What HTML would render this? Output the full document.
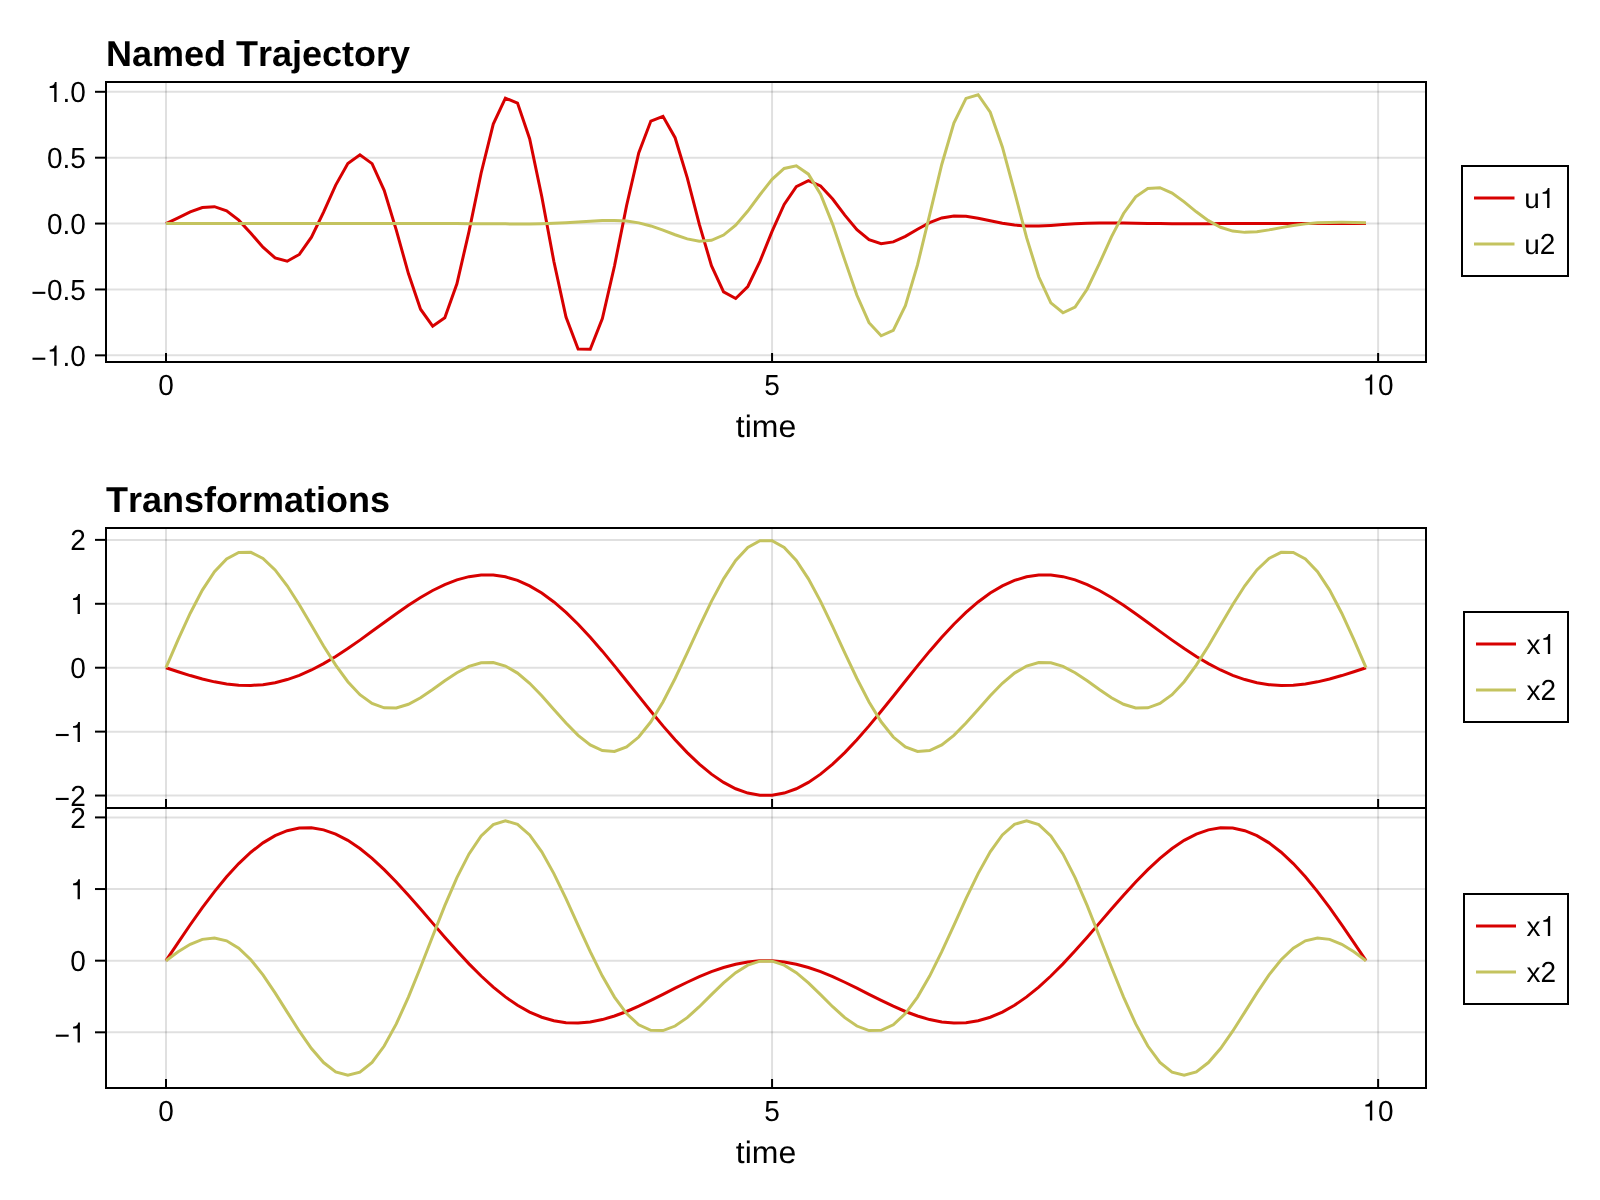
<!DOCTYPE html>
<html><head><meta charset="utf-8"><title>Named Trajectory</title>
<style>
html,body{margin:0;padding:0;background:#fff;overflow:hidden;width:1600px;height:1200px;}
svg{display:block;will-change:transform;}
svg text{font-family:"Liberation Sans",sans-serif;fill:#000;font-kerning:none;text-rendering:geometricPrecision;}
</style></head>
<body>
<svg width="1600" height="1200" viewBox="0 0 1600 1200">
<rect x="0" y="0" width="1600" height="1200" fill="#fff"/>
<line x1="166" y1="82.0" x2="166" y2="362.0" stroke="rgba(0,0,0,0.12)" stroke-width="2"/>
<line x1="772.06" y1="82.0" x2="772.06" y2="362.0" stroke="rgba(0,0,0,0.12)" stroke-width="2"/>
<line x1="1378.12" y1="82.0" x2="1378.12" y2="362.0" stroke="rgba(0,0,0,0.12)" stroke-width="2"/>
<line x1="106.0" y1="91.8" x2="1426.0" y2="91.8" stroke="rgba(0,0,0,0.12)" stroke-width="2"/>
<line x1="106.0" y1="157.69" x2="1426.0" y2="157.69" stroke="rgba(0,0,0,0.12)" stroke-width="2"/>
<line x1="106.0" y1="223.57" x2="1426.0" y2="223.57" stroke="rgba(0,0,0,0.12)" stroke-width="2"/>
<line x1="106.0" y1="289.46" x2="1426.0" y2="289.46" stroke="rgba(0,0,0,0.12)" stroke-width="2"/>
<line x1="106.0" y1="355.34" x2="1426.0" y2="355.34" stroke="rgba(0,0,0,0.12)" stroke-width="2"/>
<polyline points="166,223.57 178.12,217.86 190.24,211.89 202.36,207.52 214.48,206.7 226.61,210.83 238.73,220.14 250.85,233.26 262.97,247.2 275.09,257.9 287.21,261.25 299.33,254.44 311.45,237.12 323.58,212.08 335.7,185.06 347.82,163.56 359.94,154.83 372.06,163.62 384.18,190.31 396.3,230.06 408.42,273.59 420.55,309.23 432.67,326.2 444.79,317.79 456.91,283.82 469.03,231.31 481.15,172.97 493.27,124.08 505.39,98.16 517.52,103.12 529.64,138.74 541.76,196.44 553.88,261.51 566,317.13 578.12,349 590.24,349.27 602.36,318.65 614.48,265.97 626.61,205.52 638.73,152.98 650.85,121.06 662.97,116.3 675.09,137.71 687.21,177.65 699.33,224.39 711.45,265.65 723.58,291.89 735.7,298.51 747.82,286.5 759.94,261.41 772.06,231.33 784.18,204.39 796.3,186.61 808.42,180.72 820.55,185.99 832.67,199.02 844.79,215.12 856.91,229.75 869.03,239.71 881.15,243.62 893.27,241.91 905.39,236.34 917.52,229.19 929.64,222.57 941.76,217.96 953.88,215.92 966,216.25 978.12,218.21 990.24,220.84 1002.36,223.33 1014.48,225.1 1026.61,225.95 1038.73,225.97 1050.85,225.41 1062.97,224.6 1075.09,223.83 1087.21,223.27 1099.33,222.98 1111.45,222.93 1123.58,223.06 1135.7,223.26 1147.82,223.47 1159.94,223.61 1172.06,223.7 1184.18,223.71 1196.3,223.69 1208.42,223.65 1220.55,223.61 1232.67,223.57 1244.79,223.55 1256.91,223.55 1269.03,223.55 1281.15,223.56 1293.27,223.57 1305.39,223.57 1317.52,223.58 1329.64,223.58 1341.76,223.58 1353.88,223.58 1366,223.58" fill="none" stroke="#d70000" stroke-width="3" stroke-linejoin="miter" stroke-miterlimit="10"/>
<polyline points="166,223.57 178.12,223.57 190.24,223.57 202.36,223.57 214.48,223.57 226.61,223.57 238.73,223.57 250.85,223.57 262.97,223.57 275.09,223.57 287.21,223.57 299.33,223.57 311.45,223.57 323.58,223.57 335.7,223.57 347.82,223.57 359.94,223.57 372.06,223.57 384.18,223.57 396.3,223.56 408.42,223.56 420.55,223.55 432.67,223.55 444.79,223.56 456.91,223.59 469.03,223.63 481.15,223.7 493.27,223.79 505.39,223.87 517.52,223.92 529.64,223.88 541.76,223.7 553.88,223.33 566,222.75 578.12,221.99 590.24,221.18 602.36,220.54 614.48,220.39 626.61,221.06 638.73,222.87 650.85,225.93 662.97,230.07 675.09,234.72 687.21,238.86 699.33,241.19 711.45,240.3 723.58,235.08 735.7,225.12 747.82,211.05 759.94,194.77 772.06,179.32 784.18,168.44 796.3,165.83 808.42,174.16 820.55,194.23 832.67,224.32 844.79,260.12 856.91,295.31 869.03,322.69 881.15,335.78 893.27,330.35 905.39,305.67 917.52,264.93 929.64,214.87 941.76,164.48 953.88,123.09 966,98.39 978.12,94.73 990.24,112.25 1002.36,146.95 1014.48,191.63 1026.61,237.65 1038.73,276.76 1050.85,302.8 1062.97,312.76 1075.09,307.05 1087.21,288.99 1099.33,263.71 1111.45,236.9 1123.58,213.48 1135.7,196.84 1147.82,188.4 1159.94,187.73 1172.06,193.06 1184.18,201.91 1196.3,211.79 1208.42,220.66 1220.55,227.26 1232.67,231.1 1244.79,232.37 1256.91,231.7 1269.03,229.87 1281.15,227.61 1293.27,225.51 1305.39,223.88 1317.52,222.86 1329.64,222.39 1341.76,222.33 1353.88,222.53 1366,222.84" fill="none" stroke="#c4c35f" stroke-width="3" stroke-linejoin="miter" stroke-miterlimit="10"/>
<line x1="166" y1="528.0" x2="166" y2="808.0" stroke="rgba(0,0,0,0.12)" stroke-width="2"/>
<line x1="772.06" y1="528.0" x2="772.06" y2="808.0" stroke="rgba(0,0,0,0.12)" stroke-width="2"/>
<line x1="1378.12" y1="528.0" x2="1378.12" y2="808.0" stroke="rgba(0,0,0,0.12)" stroke-width="2"/>
<line x1="106.0" y1="539.88" x2="1426.0" y2="539.88" stroke="rgba(0,0,0,0.12)" stroke-width="2"/>
<line x1="106.0" y1="603.79" x2="1426.0" y2="603.79" stroke="rgba(0,0,0,0.12)" stroke-width="2"/>
<line x1="106.0" y1="667.71" x2="1426.0" y2="667.71" stroke="rgba(0,0,0,0.12)" stroke-width="2"/>
<line x1="106.0" y1="731.63" x2="1426.0" y2="731.63" stroke="rgba(0,0,0,0.12)" stroke-width="2"/>
<line x1="106.0" y1="795.55" x2="1426.0" y2="795.55" stroke="rgba(0,0,0,0.12)" stroke-width="2"/>
<polyline points="166,667.71 178.12,671.73 190.24,675.56 202.36,678.99 214.48,681.85 226.61,683.98 238.73,685.22 250.85,685.47 262.97,684.64 275.09,682.67 287.21,679.55 299.33,675.3 311.45,669.97 323.58,663.65 335.7,656.46 347.82,648.55 359.94,640.11 372.06,631.34 384.18,622.45 396.3,613.69 408.42,605.28 420.55,597.47 432.67,590.5 444.79,584.57 456.91,579.89 469.03,576.65 481.15,574.98 493.27,575.01 505.39,576.82 517.52,580.43 529.64,585.86 541.76,593.05 553.88,601.93 566,612.36 578.12,624.18 590.24,637.19 602.36,651.16 614.48,665.84 626.61,680.95 638.73,696.19 650.85,711.28 662.97,725.9 675.09,739.77 687.21,752.61 699.33,764.15 711.45,774.16 723.58,782.43 735.7,788.78 747.82,793.09 759.94,795.27 772.06,795.27 784.18,793.09 796.3,788.78 808.42,782.43 820.55,774.16 832.67,764.15 844.79,752.61 856.91,739.77 869.03,725.9 881.15,711.28 893.27,696.19 905.39,680.95 917.52,665.84 929.64,651.16 941.76,637.19 953.88,624.18 966,612.36 978.12,601.93 990.24,593.05 1002.36,585.86 1014.48,580.43 1026.61,576.82 1038.73,575.01 1050.85,574.98 1062.97,576.65 1075.09,579.89 1087.21,584.57 1099.33,590.5 1111.45,597.47 1123.58,605.28 1135.7,613.69 1147.82,622.45 1159.94,631.34 1172.06,640.11 1184.18,648.55 1196.3,656.46 1208.42,663.65 1220.55,669.97 1232.67,675.3 1244.79,679.55 1256.91,682.67 1269.03,684.64 1281.15,685.47 1293.27,685.22 1305.39,683.98 1317.52,681.85 1329.64,678.99 1341.76,675.56 1353.88,671.73 1366,667.71" fill="none" stroke="#d70000" stroke-width="3" stroke-linejoin="miter" stroke-miterlimit="10"/>
<polyline points="166,667.71 178.12,639.6 190.24,613.21 202.36,590.12 214.48,571.67 226.61,558.89 238.73,552.38 250.85,552.3 262.97,558.37 275.09,569.89 287.21,585.79 299.33,604.76 311.45,625.32 323.58,645.93 335.7,665.15 347.82,681.74 359.94,694.73 372.06,703.51 384.18,707.84 396.3,707.93 408.42,704.3 420.55,697.82 432.67,689.57 444.79,680.78 456.91,672.67 469.03,666.36 481.15,662.79 493.27,662.59 505.39,666.05 517.52,673.09 529.64,683.25 541.76,695.72 553.88,709.41 566,723.07 578.12,735.33 590.24,744.89 602.36,750.57 614.48,751.48 626.61,747.03 638.73,737.05 650.85,721.8 662.97,701.93 675.09,678.51 687.21,652.89 699.33,626.63 711.45,601.4 723.58,578.84 735.7,560.45 747.82,547.45 759.94,540.73 772.06,540.73 784.18,547.45 796.3,560.45 808.42,578.84 820.55,601.4 832.67,626.63 844.79,652.89 856.91,678.51 869.03,701.93 881.15,721.8 893.27,737.05 905.39,747.03 917.52,751.48 929.64,750.57 941.76,744.89 953.88,735.33 966,723.07 978.12,709.41 990.24,695.72 1002.36,683.25 1014.48,673.09 1026.61,666.05 1038.73,662.59 1050.85,662.79 1062.97,666.36 1075.09,672.67 1087.21,680.78 1099.33,689.57 1111.45,697.82 1123.58,704.3 1135.7,707.93 1147.82,707.84 1159.94,703.51 1172.06,694.73 1184.18,681.74 1196.3,665.15 1208.42,645.93 1220.55,625.32 1232.67,604.76 1244.79,585.79 1256.91,569.89 1269.03,558.37 1281.15,552.3 1293.27,552.38 1305.39,558.89 1317.52,571.67 1329.64,590.12 1341.76,613.21 1353.88,639.6 1366,667.71" fill="none" stroke="#c4c35f" stroke-width="3" stroke-linejoin="miter" stroke-miterlimit="10"/>
<line x1="166" y1="808.0" x2="166" y2="1088.0" stroke="rgba(0,0,0,0.12)" stroke-width="2"/>
<line x1="772.06" y1="808.0" x2="772.06" y2="1088.0" stroke="rgba(0,0,0,0.12)" stroke-width="2"/>
<line x1="1378.12" y1="808.0" x2="1378.12" y2="1088.0" stroke="rgba(0,0,0,0.12)" stroke-width="2"/>
<line x1="106.0" y1="817.41" x2="1426.0" y2="817.41" stroke="rgba(0,0,0,0.12)" stroke-width="2"/>
<line x1="106.0" y1="889.04" x2="1426.0" y2="889.04" stroke="rgba(0,0,0,0.12)" stroke-width="2"/>
<line x1="106.0" y1="960.68" x2="1426.0" y2="960.68" stroke="rgba(0,0,0,0.12)" stroke-width="2"/>
<line x1="106.0" y1="1032.31" x2="1426.0" y2="1032.31" stroke="rgba(0,0,0,0.12)" stroke-width="2"/>
<polyline points="166,960.68 178.12,942.55 190.24,924.77 202.36,907.67 214.48,891.58 226.61,876.8 238.73,863.6 250.85,852.21 262.97,842.84 275.09,835.63 287.21,830.7 299.33,828.09 311.45,827.82 323.58,829.84 335.7,834.06 347.82,840.34 359.94,848.5 372.06,858.34 384.18,869.59 396.3,881.99 408.42,895.26 420.55,909.07 432.67,923.14 444.79,937.15 456.91,950.82 469.03,963.87 481.15,976.04 493.27,987.11 505.39,996.9 517.52,1005.25 529.64,1012.05 541.76,1017.24 553.88,1020.79 566,1022.72 578.12,1023.09 590.24,1022 602.36,1019.59 614.48,1016.02 626.61,1011.49 638.73,1006.22 650.85,1000.42 662.97,994.33 675.09,988.19 687.21,982.23 699.33,976.67 711.45,971.7 723.58,967.5 735.7,964.22 747.82,961.97 759.94,960.82 772.06,960.82 784.18,961.97 796.3,964.22 808.42,967.5 820.55,971.7 832.67,976.67 844.79,982.23 856.91,988.19 869.03,994.33 881.15,1000.42 893.27,1006.22 905.39,1011.49 917.52,1016.02 929.64,1019.59 941.76,1022 953.88,1023.09 966,1022.72 978.12,1020.79 990.24,1017.24 1002.36,1012.05 1014.48,1005.25 1026.61,996.9 1038.73,987.11 1050.85,976.04 1062.97,963.87 1075.09,950.82 1087.21,937.15 1099.33,923.14 1111.45,909.07 1123.58,895.26 1135.7,881.99 1147.82,869.59 1159.94,858.34 1172.06,848.5 1184.18,840.34 1196.3,834.06 1208.42,829.84 1220.55,827.82 1232.67,828.09 1244.79,830.7 1256.91,835.63 1269.03,842.84 1281.15,852.21 1293.27,863.6 1305.39,876.8 1317.52,891.58 1329.64,907.67 1341.76,924.77 1353.88,942.55 1366,960.68" fill="none" stroke="#d70000" stroke-width="3" stroke-linejoin="miter" stroke-miterlimit="10"/>
<polyline points="166,960.68 178.12,951.81 190.24,944.3 202.36,939.36 214.48,937.99 226.61,940.83 238.73,948.12 250.85,959.7 262.97,974.94 275.09,992.85 287.21,1012.12 299.33,1031.22 311.45,1048.55 323.58,1062.55 335.7,1071.82 347.82,1075.27 359.94,1072.2 372.06,1062.37 384.18,1046.02 396.3,1023.88 408.42,997.13 420.55,967.3 432.67,936.18 444.79,905.67 456.91,877.67 469.03,853.92 481.15,835.88 493.27,824.61 505.39,820.73 517.52,824.32 529.64,834.99 541.76,851.83 553.88,873.58 566,898.64 578.12,925.26 590.24,951.64 602.36,976.09 614.48,997.12 626.61,1013.59 638.73,1024.77 650.85,1030.38 662.97,1030.6 675.09,1026.03 687.21,1017.66 699.33,1006.72 711.45,994.63 723.58,982.82 735.7,972.61 747.82,965.13 759.94,961.18 772.06,961.18 784.18,965.13 796.3,972.61 808.42,982.82 820.55,994.63 832.67,1006.72 844.79,1017.66 856.91,1026.03 869.03,1030.6 881.15,1030.38 893.27,1024.77 905.39,1013.59 917.52,997.12 929.64,976.09 941.76,951.64 953.88,925.26 966,898.64 978.12,873.58 990.24,851.83 1002.36,834.99 1014.48,824.32 1026.61,820.73 1038.73,824.61 1050.85,835.88 1062.97,853.92 1075.09,877.67 1087.21,905.67 1099.33,936.18 1111.45,967.3 1123.58,997.13 1135.7,1023.88 1147.82,1046.02 1159.94,1062.37 1172.06,1072.2 1184.18,1075.27 1196.3,1071.82 1208.42,1062.55 1220.55,1048.55 1232.67,1031.22 1244.79,1012.12 1256.91,992.85 1269.03,974.94 1281.15,959.7 1293.27,948.12 1305.39,940.83 1317.52,937.99 1329.64,939.36 1341.76,944.3 1353.88,951.81 1366,960.68" fill="none" stroke="#c4c35f" stroke-width="3" stroke-linejoin="miter" stroke-miterlimit="10"/>
<line x1="166" y1="362.0" x2="166" y2="353.0" stroke="#000" stroke-width="2"/>
<line x1="772.06" y1="362.0" x2="772.06" y2="353.0" stroke="#000" stroke-width="2"/>
<line x1="1378.12" y1="362.0" x2="1378.12" y2="353.0" stroke="#000" stroke-width="2"/>
<line x1="95.0" y1="91.8" x2="106.0" y2="91.8" stroke="#000" stroke-width="2"/>
<path d="M54.22,102.1 L54.22,87.96 L49.71,87.96 L49.71,86.26 C52.98,85.92 54.05,85.14 54.94,82.08 L56.57,82.08 L56.57,102.1 Z" fill="#000"/>
<text transform="translate(62.45,102.1) scale(1,1.035)" font-size="28">.0</text>
<line x1="95.0" y1="157.69" x2="106.0" y2="157.69" stroke="#000" stroke-width="2"/>
<text transform="translate(46.88,167.99) scale(1,1.035)" font-size="28">0.5</text>
<line x1="95.0" y1="223.57" x2="106.0" y2="223.57" stroke="#000" stroke-width="2"/>
<text transform="translate(46.88,233.87) scale(1,1.035)" font-size="28">0.0</text>
<line x1="95.0" y1="289.46" x2="106.0" y2="289.46" stroke="#000" stroke-width="2"/>
<rect x="32.49" y="291.79" width="12.82" height="2.1" fill="#000"/>
<text transform="translate(46.88,299.76) scale(1,1.035)" font-size="28">0.5</text>
<line x1="95.0" y1="355.34" x2="106.0" y2="355.34" stroke="#000" stroke-width="2"/>
<rect x="32.49" y="357.68" width="12.82" height="2.1" fill="#000"/>
<path d="M54.22,365.64 L54.22,351.5 L49.71,351.5 L49.71,349.8 C52.98,349.46 54.05,348.68 54.94,345.62 L56.57,345.62 L56.57,365.64 Z" fill="#000"/>
<text transform="translate(62.45,365.64) scale(1,1.035)" font-size="28">.0</text>
<rect x="106.0" y="82.0" width="1320.0" height="280.0" fill="none" stroke="#000" stroke-width="2"/>
<line x1="166" y1="808.0" x2="166" y2="799.0" stroke="#000" stroke-width="2"/>
<line x1="772.06" y1="808.0" x2="772.06" y2="799.0" stroke="#000" stroke-width="2"/>
<line x1="1378.12" y1="808.0" x2="1378.12" y2="799.0" stroke="#000" stroke-width="2"/>
<line x1="95.0" y1="539.88" x2="106.0" y2="539.88" stroke="#000" stroke-width="2"/>
<text transform="translate(70.23,550.18) scale(1,1.035)" font-size="28">2</text>
<line x1="95.0" y1="603.79" x2="106.0" y2="603.79" stroke="#000" stroke-width="2"/>
<path d="M77.57,614.09 L77.57,599.95 L73.06,599.95 L73.06,598.25 C76.34,597.91 77.4,597.13 78.3,594.07 L79.92,594.07 L79.92,614.09 Z" fill="#000"/>
<line x1="95.0" y1="667.71" x2="106.0" y2="667.71" stroke="#000" stroke-width="2"/>
<text transform="translate(70.23,678.01) scale(1,1.035)" font-size="28">0</text>
<line x1="95.0" y1="731.63" x2="106.0" y2="731.63" stroke="#000" stroke-width="2"/>
<rect x="55.84" y="733.96" width="12.82" height="2.1" fill="#000"/>
<path d="M77.57,741.93 L77.57,727.79 L73.06,727.79 L73.06,726.08 C76.34,725.74 77.4,724.96 78.3,721.91 L79.92,721.91 L79.92,741.93 Z" fill="#000"/>
<line x1="95.0" y1="795.55" x2="106.0" y2="795.55" stroke="#000" stroke-width="2"/>
<rect x="55.84" y="797.88" width="12.82" height="2.1" fill="#000"/>
<text transform="translate(70.23,805.85) scale(1,1.035)" font-size="28">2</text>
<rect x="106.0" y="528.0" width="1320.0" height="280.0" fill="none" stroke="#000" stroke-width="2"/>
<line x1="166" y1="1088.0" x2="166" y2="1079.0" stroke="#000" stroke-width="2"/>
<line x1="772.06" y1="1088.0" x2="772.06" y2="1079.0" stroke="#000" stroke-width="2"/>
<line x1="1378.12" y1="1088.0" x2="1378.12" y2="1079.0" stroke="#000" stroke-width="2"/>
<line x1="95.0" y1="817.41" x2="106.0" y2="817.41" stroke="#000" stroke-width="2"/>
<text transform="translate(70.23,827.71) scale(1,1.035)" font-size="28">2</text>
<line x1="95.0" y1="889.04" x2="106.0" y2="889.04" stroke="#000" stroke-width="2"/>
<path d="M77.57,899.34 L77.57,885.2 L73.06,885.2 L73.06,883.49 C76.34,883.16 77.4,882.37 78.3,879.32 L79.92,879.32 L79.92,899.34 Z" fill="#000"/>
<line x1="95.0" y1="960.68" x2="106.0" y2="960.68" stroke="#000" stroke-width="2"/>
<text transform="translate(70.23,970.98) scale(1,1.035)" font-size="28">0</text>
<line x1="95.0" y1="1032.31" x2="106.0" y2="1032.31" stroke="#000" stroke-width="2"/>
<rect x="55.84" y="1034.65" width="12.82" height="2.1" fill="#000"/>
<path d="M77.57,1042.61 L77.57,1028.47 L73.06,1028.47 L73.06,1026.76 C76.34,1026.43 77.4,1025.64 78.3,1022.59 L79.92,1022.59 L79.92,1042.61 Z" fill="#000"/>
<rect x="106.0" y="808.0" width="1320.0" height="280.0" fill="none" stroke="#000" stroke-width="2"/>
<text transform="translate(158.22,394.6) scale(1,1.035)" font-size="28">0</text>
<text transform="translate(764.28,394.6) scale(1,1.035)" font-size="28">5</text>
<path d="M1369.89,394.6 L1369.89,380.46 L1365.38,380.46 L1365.38,378.75 C1368.66,378.42 1369.72,377.63 1370.62,374.58 L1372.24,374.58 L1372.24,394.6 Z" fill="#000"/>
<text transform="translate(1378.12,394.6) scale(1,1.035)" font-size="28">0</text>
<text transform="translate(158.22,1120.6) scale(1,1.035)" font-size="28">0</text>
<text transform="translate(764.28,1120.6) scale(1,1.035)" font-size="28">5</text>
<path d="M1369.89,1120.6 L1369.89,1106.46 L1365.38,1106.46 L1365.38,1104.75 C1368.66,1104.42 1369.72,1103.63 1370.62,1100.58 L1372.24,1100.58 L1372.24,1120.6 Z" fill="#000"/>
<text transform="translate(1378.12,1120.6) scale(1,1.035)" font-size="28">0</text>
<text transform="translate(766,437.3) scale(1,0.97)" text-anchor="middle" font-size="32">time</text>
<text transform="translate(766,1163) scale(1,0.97)" text-anchor="middle" font-size="32">time</text>
<text x="106" y="66" font-size="36" font-weight="bold">Named Trajectory</text>
<text x="106" y="512.3" font-size="36" font-weight="bold">Transformations</text>
<rect x="1462" y="166" width="106" height="110" fill="#fff" stroke="#000" stroke-width="2"/>
<line x1="1474" y1="198" x2="1514.5" y2="198" stroke="#d70000" stroke-width="3"/>
<text transform="translate(1524.2,208) scale(1,0.975)" font-size="28">u</text>
<path d="M1547.1,208 L1547.1,193.86 L1542.6,193.86 L1542.6,192.15 C1545.87,191.82 1546.94,191.03 1547.83,187.98 L1549.46,187.98 L1549.46,208 Z" fill="#000"/>
<line x1="1474" y1="244" x2="1514.5" y2="244" stroke="#c4c35f" stroke-width="3"/>
<text transform="translate(1524.2,254) scale(1,0.975)" font-size="28">u</text>
<text transform="translate(1539.77,254) scale(1,1.035)" font-size="28">2</text>
<rect x="1464" y="612" width="104" height="110" fill="#fff" stroke="#000" stroke-width="2"/>
<line x1="1476" y1="644" x2="1516" y2="644" stroke="#d70000" stroke-width="3"/>
<text transform="translate(1526.5,654) scale(1,0.975)" font-size="28">x</text>
<path d="M1547.84,654 L1547.84,639.86 L1543.33,639.86 L1543.33,638.15 C1546.6,637.82 1547.67,637.03 1548.56,633.98 L1550.19,633.98 L1550.19,654 Z" fill="#000"/>
<line x1="1476" y1="690" x2="1516" y2="690" stroke="#c4c35f" stroke-width="3"/>
<text transform="translate(1526.5,700) scale(1,0.975)" font-size="28">x</text>
<text transform="translate(1540.5,700) scale(1,1.035)" font-size="28">2</text>
<rect x="1464" y="894" width="104" height="110" fill="#fff" stroke="#000" stroke-width="2"/>
<line x1="1476" y1="926" x2="1516" y2="926" stroke="#d70000" stroke-width="3"/>
<text transform="translate(1526.5,936) scale(1,0.975)" font-size="28">x</text>
<path d="M1547.84,936 L1547.84,921.86 L1543.33,921.86 L1543.33,920.15 C1546.6,919.82 1547.67,919.03 1548.56,915.98 L1550.19,915.98 L1550.19,936 Z" fill="#000"/>
<line x1="1476" y1="972" x2="1516" y2="972" stroke="#c4c35f" stroke-width="3"/>
<text transform="translate(1526.5,982) scale(1,0.975)" font-size="28">x</text>
<text transform="translate(1540.5,982) scale(1,1.035)" font-size="28">2</text>
</svg>
</body></html>
